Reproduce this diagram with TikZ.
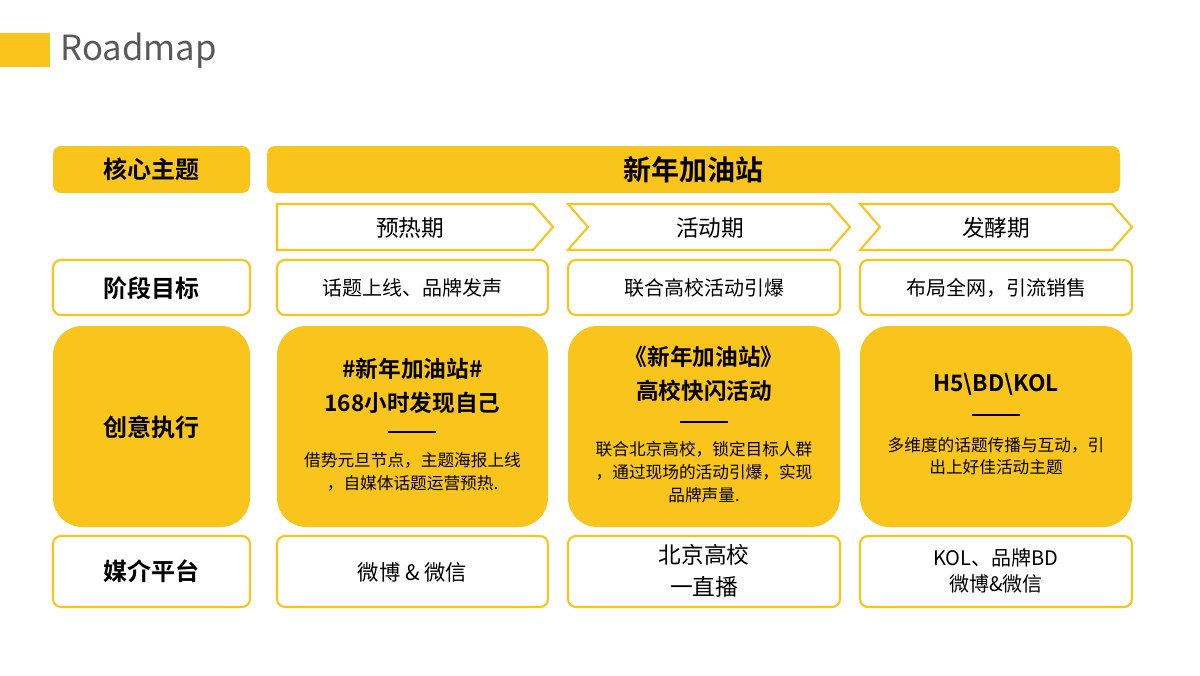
\documentclass[tikz,border=0pt]{standalone}
\usepackage{fontspec}
\setmainfont{Noto Sans CJK SC}
\newfontfamily\cjkb{Noto Sans CJK SC Bold}
\definecolor{ylw}{HTML}{F9C41C}
\definecolor{gry}{HTML}{595959}
\begin{document}
\begin{tikzpicture}[x=0.75pt,y=-0.75pt,
  fbox/.style={fill=ylw,rounded corners=6pt},
  obox/.style={draw=ylw,line width=1.6pt,fill=white,rounded corners=6pt},
  big/.style={fill=ylw,rounded corners=22pt},
  lab/.style={font=\fontsize{18}{20}\selectfont\cjkb,align=center},
  txt/.style={font=\fontsize{15}{19}\selectfont,align=center,text=black},
  small/.style={font=\fontsize{12.5}{17}\selectfont,align=center}]
\useasboundingbox (0,0) rectangle (1200,675);
\fill[ylw] (0,33) rectangle (50,67);
\node[anchor=west,text=gry,font=\fontsize{26}{28}\selectfont] (title) at (56,51) {Roadmap};
% row 1
\path[fbox] (53,146) rectangle (250,193);
\node[lab] (hx) at (151.5,169.5) {核心主题};
\path[fbox] (267,146) rectangle (1120,193);
\node[font=\fontsize{21}{24}\selectfont\cjkb] (main) at (693,169.5) {新年加油站};
% chevrons
\draw[ylw,line width=1.6pt] (277,204) -- (533,204) -- (553,227) -- (533,250) -- (277,250) -- cycle;
\draw[ylw,line width=1.6pt] (568,204) -- (830,204) -- (850,227) -- (830,250) -- (568,250) -- (588,227) -- cycle;
\draw[ylw,line width=1.6pt] (860,204) -- (1112,204) -- (1132,227) -- (1112,250) -- (860,250) -- (880,227) -- cycle;
\node[txt,font=\fontsize{17}{20}\selectfont] (p1) at (410,228) {预热期};
\node[txt,font=\fontsize{17}{20}\selectfont] (p2) at (710,228) {活动期};
\node[txt,font=\fontsize{17}{20}\selectfont] (p3) at (996,228) {发酵期};
% goals
\path[obox] (53,260) rectangle (250,315);
\node[lab] (goal) at (151.5,288) {阶段目标};
\path[obox] (277,260) rectangle (548,315);
\node[txt] (g1) at (412.5,288) {话题上线、品牌发声};
\path[obox] (568,260) rectangle (840,315);
\node[txt] (g2) at (704,288) {联合高校活动引爆};
\path[obox] (860,260) rectangle (1132,315);
\node[txt] (g3) at (996,288) {布局全网，引流销售};
% creative
\path[big] (53,326) rectangle (250,527);
\node[lab] (cy) at (151.5,427) {创意执行};
\path[big] (277,326) rectangle (548,527);
\path[big] (568,326) rectangle (840,527);
\path[big] (860,326) rectangle (1132,527);
\node[lab,font=\fontsize{17}{25}\selectfont\cjkb] (c1) at (412.5,386) {\#新年加油站\#\\168小时发现自己};
\draw[black,line width=0.8pt] (388,432) -- (436,432);
\node[small] (d1) at (412.5,472) {借势元旦节点，主题海报上线\\，自媒体话题运营预热.};
\node[lab,font=\fontsize{17}{25}\selectfont\cjkb] (c2) at (704,374) {《新年加油站》\\高校快闪活动};
\draw[black,line width=0.8pt] (680,422) -- (728,422);
\node[small] (d2) at (704,472) {联合北京高校，锁定目标人群\\，通过现场的活动引爆，实现\\品牌声量.};
\node[lab,font=\fontsize{17}{25}\selectfont\cjkb] (c3) at (996,384) {H5\textbackslash BD\textbackslash KOL};
\draw[black,line width=0.8pt] (972,415) -- (1020,415);
\node[small] (d3) at (996,456) {多维度的话题传播与互动，引\\出上好佳活动主题};
% media
\path[obox] (53,536) rectangle (250,607);
\node[lab] (mj) at (151.5,571) {媒介平台};
\path[obox] (277,536) rectangle (548,607);
\node[txt,font=\fontsize{16}{20}\selectfont] (m1) at (412.5,572) {微博 \& 微信};
\path[obox] (568,536) rectangle (840,607);
\node[txt,font=\fontsize{17}{24}\selectfont] (m2) at (704,571) {北京高校\\一直播};
\path[obox] (860,536) rectangle (1132,607);
\node[txt,font=\fontsize{15}{20}\selectfont] (m3) at (996,571) {KOL、品牌BD\\微博\&微信};
\end{tikzpicture}
\end{document}
